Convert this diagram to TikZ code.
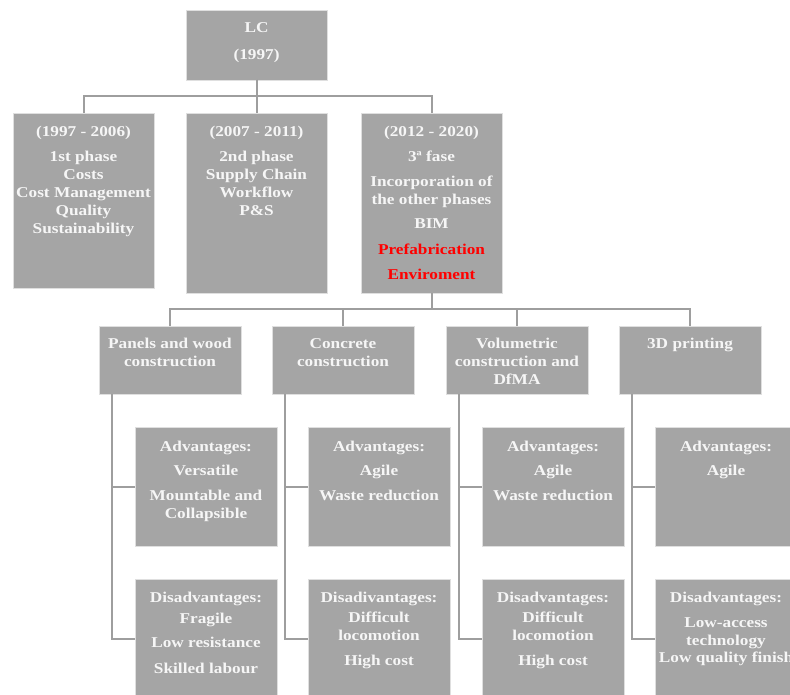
\documentclass[tikz,border=0pt]{standalone}
\usepackage{fontspec}
\setmainfont{Liberation Serif}[FakeStretch=1.15]
\usetikzlibrary{positioning}
\definecolor{boxgray}{RGB}{165,165,165}
\definecolor{linegray}{RGB}{158,158,158}
\definecolor{txtwhite}{RGB}{246,246,246}
\definecolor{txtred}{RGB}{255,0,0}
\newcommand{\boxtext}[4]{\parbox[t][#1][t]{#2}{\centering\rule{0pt}{#3}#4}}

\begin{document}
\begin{tikzpicture}[x=1pt,y=-1pt]
	\tikzstyle{box}=[rectangle,fill=boxgray,draw=gray!25,line width=0.6pt,inner sep=0pt,outer sep=0pt,text=txtwhite,font=\fontsize{15pt}{18pt}\selectfont\bfseries]
	\tikzstyle{link}=[draw=linegray,line width=2pt]
	\useasboundingbox (0,0) rectangle (790,695);
	\clip (0,0) rectangle (790,695);
	
	\node[box,anchor=north west] (lc) at (186,10) {\boxtext{70pt}{141pt}{23pt}{LC\\[9pt](1997)}};
	\node[box,below=33pt of lc] (p2) {\boxtext{180pt}{141pt}{24pt}{(2007 - 2011)\\[7pt]2nd phase\\Supply Chain\\Workflow\\P\&S}};
	\node[box,left=32pt of p2.north west,anchor=north east] (p1) {\boxtext{175pt}{141pt}{24pt}{(1997 - 2006)\\[7pt]1st phase\\Costs\\Cost Management\\Quality\\Sustainability}};
	\node[box,right=34pt of p2.north east,anchor=north west] (p3) {\boxtext{180pt}{141pt}{24pt}{(2012 - 2020)\\[7pt]3ª fase\\[7pt]Incorporation of\\the other phases\\[6pt]BIM\\[8pt]\textcolor{txtred}{Prefabrication}\\[7pt]\textcolor{txtred}{Enviroment}}};
	
	\node[box,anchor=north west] (c1) at (99,326) {\boxtext{68pt}{142pt}{22pt}{Panels and wood\\construction}};
	\node[box,right=31pt of c1] (c2) {\boxtext{68pt}{142pt}{22pt}{Concrete\\construction}};
	\node[box,right=32pt of c2] (c3) {\boxtext{68pt}{142pt}{22pt}{Volumetric\\construction and\\DfMA}};
	\node[box,right=31pt of c3] (c4) {\boxtext{68pt}{142pt}{22pt}{3D printing}};
	
	\node[box,below right=33pt and 36pt of c1.south west] (a1) {\boxtext{119pt}{142pt}{24pt}{Advantages:\\[6pt]Versatile\\[7pt]Mountable and\\Collapsible}};
	\node[box,below right=33pt and 36pt of c2.south west] (a2) {\boxtext{119pt}{142pt}{24pt}{Advantages:\\[6pt]Agile\\[7pt]Waste reduction}};
	\node[box,below right=33pt and 36pt of c3.south west] (a3) {\boxtext{119pt}{142pt}{24pt}{Advantages:\\[6pt]Agile\\[7pt]Waste reduction}};
	\node[box,below right=33pt and 36pt of c4.south west] (a4) {\boxtext{119pt}{142pt}{24pt}{Advantages:\\[6pt]Agile}};
	
	\node[box,below=33pt of a1] (d1) {\boxtext{119pt}{142pt}{23pt}{Disadvantages:\\[3pt]Fragile\\[6pt]Low resistance\\[8pt]Skilled labour}};
	\node[box,below=33pt of a2] (d2) {\boxtext{119pt}{142pt}{23pt}{Disadivantages:\\[2pt]Difficult\\locomotion\\[7pt]High cost}};
	\node[box,below=33pt of a3] (d3) {\boxtext{119pt}{142pt}{23pt}{Disadvantages:\\[2pt]Difficult\\locomotion\\[7pt]High cost}};
	\node[box,below=33pt of a4] (d4) {\boxtext{119pt}{142pt}{23pt}{Disadvantages:\\[7pt]Low-access\\technology\\[-1pt]Low quality finish}};
	
	\foreach \n in {p1,p2,p3}
		\draw[link] (lc.south) -- ++(0,16.5) -| (\n.north);
	\foreach \n in {c1,c2,c3,c4}
		\draw[link] (p3.south) -- ++(0,16) -| (\n.north);
	\foreach \i in {1,...,4} {
		\draw[link] ([xshift=13pt]c\i.south west) |- (a\i.west);
		\draw[link] ([xshift=13pt]c\i.south west) |- (d\i.west);
	}
	
\end{tikzpicture}
\end{document}
